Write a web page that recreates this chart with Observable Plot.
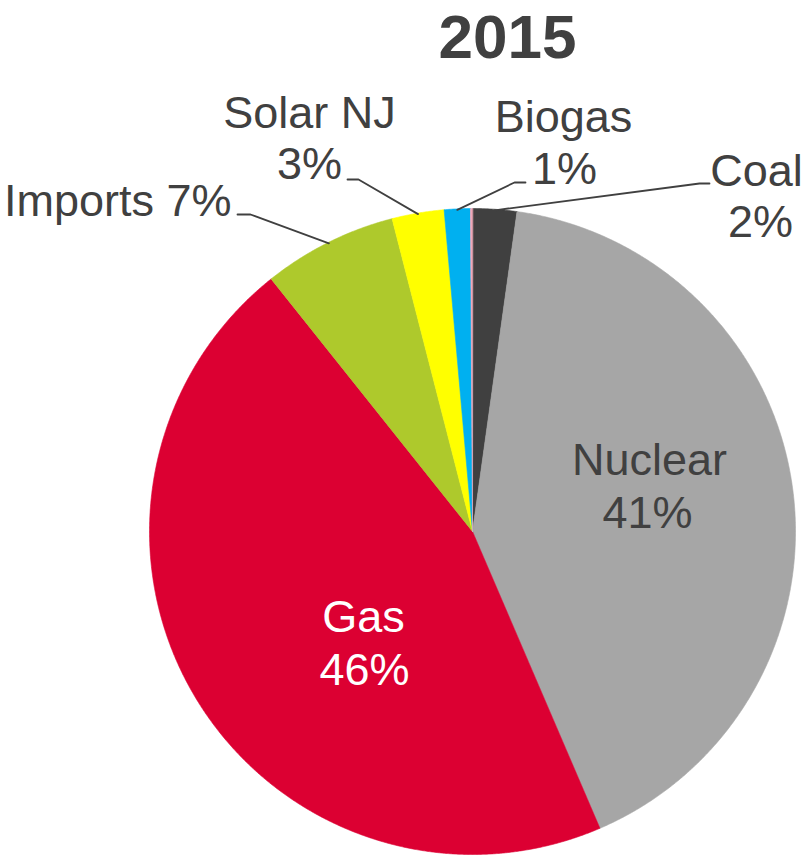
<!DOCTYPE html>
<html>
<head>
<meta charset="utf-8">
<script src="https://cdn.jsdelivr.net/npm/d3@7"></script>
<script src="https://cdn.jsdelivr.net/npm/@observablehq/plot@0.6"></script>
<style>
  html, body { margin: 0; padding: 0; background: #fff; }
  #chart svg { display: block; }
</style>
</head>
<body>
<div id="chart"></div>
<script>
// ---- data ----
const title = "2015";
const names = ["Coal", "Nuclear", "Gas", "Imports", "Solar NJ", "Biogas", "Other"];
const shares = [2.2, 41.3, 45.7, 6.7, 2.6, 1.3, 0.1];
const pctLabels = ["2%", "41%", "46%", "7%", "3%", "1%", ""];
const colors = ["#404040", "#a6a6a6", "#dc0032", "#aec92c", "#ffff00", "#00b0f0", "#f2a7b8"];

// ---- layout ----
const W = 804, H = 856;
const cx = 472, cy = 531, R = 323;
const ink = "#404040";
const font = "'Liberation Sans', Arial, sans-serif";

// label placement (baselines) per category
const labelLayout = {
  "Coal":     {lines: [[756, 185, "name"], [760, 236, "pct"]], anchor: "middle", color: ink},
  "Nuclear":  {lines: [[649, 474, "name"], [647, 527, "pct"]], anchor: "middle", color: ink},
  "Gas":      {lines: [[363, 631, "name"], [364, 684, "pct"]], anchor: "middle", color: "#ffffff"},
  "Imports":  {lines: [[231, 215, "both"]], anchor: "end", color: ink},
  "Solar NJ": {lines: [[309, 127, "name"], [309, 178, "pct"]], anchor: "middle", color: ink},
  "Biogas":   {lines: [[563, 131, "name"], [564, 183, "pct"]], anchor: "middle", color: ink}
};
// leader line elbows (label end -> elbow), final point on the slice edge
const leaderLayout = {
  "Imports":  [[237, 214], [250, 214]],
  "Solar NJ": [[347, 179], [358, 179]],
  "Biogas":   [[525, 182], [514, 182]],
  "Coal":     [[709, 183], [699, 183]]
};

// ---- geometry from data ----
const data = names.map((name, i) => ({name, value: shares[i], pct: pctLabels[i]}));
const arcs = d3.pie().value(d => d.value).sort(null)(data);

const slicePts = [];
for (const a of arcs) {
  const name = a.data.name;
  slicePts.push({name, x: cx, y: cy});
  const n = Math.max(2, Math.ceil((a.endAngle - a.startAngle) / 0.004));
  for (let k = 0; k <= n; k++) {
    const t = a.startAngle + (a.endAngle - a.startAngle) * k / n;
    slicePts.push({name, x: cx + R * Math.sin(t), y: cy - R * Math.cos(t)});
  }
}

const leaderPts = [];
for (const a of arcs) {
  const name = a.data.name;
  const el = leaderLayout[name];
  if (!el) continue;
  const mid = (a.startAngle + a.endAngle) / 2;
  for (const [x, y] of el) leaderPts.push({name, x, y});
  leaderPts.push({name, x: cx + (R - 1) * Math.sin(mid), y: cy - (R - 1) * Math.cos(mid)});
}

const textRows = [];
for (const d of data) {
  const L = labelLayout[d.name];
  if (!L) continue;
  for (const [x, y, kind] of L.lines) {
    const text = kind === "name" ? d.name : kind === "pct" ? d.pct : d.name + " " + d.pct;
    textRows.push({x, y, text, anchor: L.anchor, color: L.color});
  }
}

const chart = Plot.plot({
  width: W,
  height: H,
  margin: 0,
  style: {fontFamily: font, background: "#fff"},
  x: {domain: [0, W], range: [0, W], axis: null},
  y: {domain: [0, H], range: [0, H], axis: null},
  color: {type: "ordinal", domain: names, range: colors},
  marks: [
    Plot.line(slicePts, {x: "x", y: "y", z: "name", fill: "name", stroke: "name", strokeWidth: 0.6, curve: "linear-closed"}),
    Plot.line(leaderPts, {x: "x", y: "y", z: "name", stroke: ink, strokeWidth: 1.8}),
    Plot.text(textRows.filter(d => d.anchor === "middle"), {
      x: "x", y: "y", text: "text", textAnchor: "middle", lineAnchor: "bottom",
      fill: d => d.color, fontSize: 45
    }),
    Plot.text(textRows.filter(d => d.anchor === "end"), {
      x: "x", y: "y", text: "text", textAnchor: "end", lineAnchor: "bottom",
      fill: d => d.color, fontSize: 45
    }),
    Plot.text([title], {
      x: [507], y: [57], text: d => d, textAnchor: "middle", lineAnchor: "bottom",
      fontSize: 62, fontWeight: "bold", fill: ink
    })
  ]
});
document.getElementById("chart").appendChild(chart);
</script>
</body>
</html>
